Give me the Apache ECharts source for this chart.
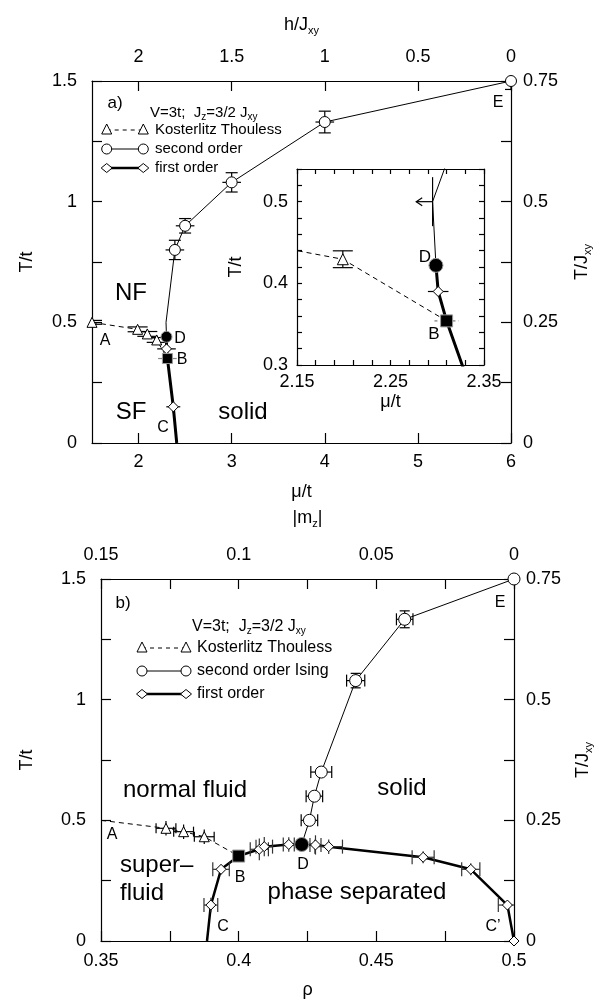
<!DOCTYPE html>
<html lang="en">
<head>
<meta charset="UTF-8">
<title>phase diagram</title>
<style>
  *{margin:0;padding:0;}
  html,body{width:100%;height:100%;background:#fff;}
  #chart{width:606px;height:1002px;}
</style>
</head>
<body>
<div id="chart"></div>
<script src="https://cdn.jsdelivr.net/npm/echarts@6/dist/echarts.min.js"></script>
<script>
// ---------- panel a) : T/t against mu/t ----------
var aMuTicks = [2, 3, 4, 5, 6];
var aHTicks = [0, 0.5, 1, 1.5, 2];
var aTTicks = [0, 0.25, 0.5, 0.75, 1, 1.25, 1.5];
var aTLabels = [0, 0.5, 1, 1.5];
var aJTicks = [0, 0.125, 0.25, 0.375, 0.5, 0.625, 0.75];
var aJLabels = [0, 0.25, 0.5, 0.75];

// second order (thin line, open circles)
var a2Mu   = [2.30, 2.295, 2.39, 2.50, 3.00, 4.00, 6.00];
var a2T    = [0.44, 0.50, 0.80, 0.90, 1.08, 1.33, 1.50];
var a2Mark = [0, 0, 1, 1, 1, 1, 1];
var a2EMu  = [0, 0, 0.10, 0.10, 0.10, 0.10, 0];
var a2ET   = [0, 0, 0.04, 0.03, 0.04, 0.045, 0.035];
// Kosterlitz Thouless (dashed, triangles)
var aKMu   = [1.50, 1.99, 2.094, 2.195, 2.31];
var aKT    = [0.50, 0.471, 0.452, 0.427, 0.35];
var aKMark = [1, 1, 1, 1, 0];
var aKET   = [0.008, 0.01, 0.01, 0.01, 0];
// first order (thick line, diamonds)
var a1Mu   = [2.30, 2.30, 2.31, 2.373, 2.41];
var a1T    = [0.44, 0.39, 0.35, 0.15, 0.0];
var a1Mark = [0, 1, 0, 1, 0];
var a1EMu  = [0, 0.10, 0, 0.075, 0];
var a1ET   = [0, 0.01, 0, 0.025, 0];
// special points
var aB = [2.31, 0.35], aBEMu = 0.10;
var aD = [2.30, 0.44];

// ---------- inset ----------
var iMuTicks = [2.15, 2.17, 2.19, 2.21, 2.23, 2.25, 2.27, 2.29, 2.31, 2.33, 2.35];
var iMuLabels = [2.15, 2.25, 2.35];
var iTTicks = [0.30, 0.32, 0.34, 0.36, 0.38, 0.40, 0.42, 0.44, 0.46, 0.48, 0.50, 0.52, 0.54];
var iTLabels = [0.3, 0.4, 0.5];
var i2Mu = [2.2986, 2.295, 2.39];
var i2T  = [0.422, 0.50, 0.80];
var iArrow = [2.295, 0.50], iArrowET = 0.03, iArrowLen = 0.0175;
var iKMu = [2.094, 2.199, 2.31];
var iKT  = [0.452, 0.4295, 0.354];
var iKMark = [0, 1, 0];
var iKET = [0, 0.0103, 0];
var i1Mu = [2.2986, 2.301, 2.31, 2.373];
var i1T  = [0.422, 0.39, 0.354, 0.15];
var i1Mark = [0, 1, 0, 0];
var i1EMu = [0, 0.011, 0, 0];
var iB = [2.31, 0.354], iBEMu = 0.013;
var iD = [2.2986, 0.422];

// ---------- panel b) : T/t against rho ----------
var bRhoTicks = [0.35, 0.375, 0.4, 0.425, 0.45, 0.475, 0.5];
var bRhoLabels = [0.35, 0.4, 0.45, 0.5];
var bMTicks = [0, 0.025, 0.05, 0.075, 0.1, 0.125, 0.15];
var bMLabels = [0, 0.05, 0.1, 0.15];

var b2Rho  = [0.4229, 0.4257, 0.4275, 0.430, 0.4425, 0.4603, 0.50];
var b2T    = [0.40, 0.50, 0.60, 0.70, 1.079, 1.333, 1.50];
var b2Mark = [0, 1, 1, 1, 1, 1, 1];
var b2ERho = [0, 0.003, 0.003, 0.0038, 0.0033, 0.003, 0];
var b2ET   = [0, 0, 0, 0, 0.03, 0.035, 0];

var bKRho  = [0.35, 0.3736, 0.380, 0.3875, 0.40];
var bKT    = [0.50, 0.467, 0.453, 0.432, 0.352];
var bKMark = [0, 1, 1, 1, 0];
var bKERho = [0, 0.0036, 0.0036, 0.0036, 0];
var bKET   = [0, 0.03, 0.03, 0.03, 0];

var b1Rho  = [0.3885, 0.3899, 0.3936, 0.40, 0.4075, 0.4093, 0.4182, 0.4229, 0.4279, 0.4327, 0.467, 0.4843, 0.4976, 0.50];
var b1T    = [0, 0.149, 0.297, 0.352, 0.38, 0.391, 0.40, 0.40, 0.398, 0.391, 0.347, 0.297, 0.149, 0];
var b1Mark = [0, 1, 1, 0, 1, 1, 1, 0, 1, 1, 1, 1, 1, 1];
var b1ERho = [0, 0.0025, 0.003, 0, 0.0033, 0.003, 0.002, 0, 0.002, 0.005, 0.004, 0.0033, 0.0033, 0];
var b1ET   = [0, 0.03, 0.02, 0, 0.045, 0.04, 0.03, 0, 0.04, 0.03, 0.025, 0.025, 0.018, 0];
var bB = [0.40, 0.352], bBET = 0.02;
var bD = [0.4229, 0.40];

var FONT = '"Liberation Sans", Arial, sans-serif';

function pairs(xs, ys) { return xs.map(function (x, i) { return [x, ys[i]]; }); }
function marked(xs, ys, m) { return pairs(xs, ys).filter(function (p, i) { return m[i]; }); }
function errs(xs, ys, ex, ey) {
    return xs.map(function (x, i) { return [x, ys[i], ex ? ex[i] : 0, ey ? ey[i] : 0]; })
        .filter(function (d) { return d[2] > 0 || d[3] > 0; });
}

function lineS(ax, data, width, dash) {
    return {
        type: 'line', xAxisIndex: ax, yAxisIndex: ax, data: data, showSymbol: false, symbol: 'none',
        clip: true, z: 2, silent: true,
        lineStyle: {color: '#000', width: width, type: dash ? [5, 4] : 'solid'}
    };
}
function markS(ax, data, symbol, size, fill, border) {
    return {
        type: 'scatter', xAxisIndex: ax, yAxisIndex: ax, data: data, symbol: symbol, symbolSize: size,
        clip: true, z: 5, silent: true,
        itemStyle: {color: fill || '#fff', borderColor: border || '#000', borderWidth: 1, opacity: 1}
    };
}
// error bars, drawn through the axes: data = [x, y, ex, ey]
function errS(ax, data, o) {
    o = o || {};
    return {
        type: 'custom', xAxisIndex: ax, yAxisIndex: ax, data: data, clip: true, z: 3, silent: true,
        renderItem: function (params, api) {
            var x = api.value(0), y = api.value(1), ex = api.value(2), ey = api.value(3);
            var c = api.coord([x, y]);
            var st = {stroke: o.color || '#000', lineWidth: o.width || 1.2, lineDash: o.dash || null};
            var k = [];
            function seg(x1, y1, x2, y2) { k.push({type: 'line', shape: {x1: x1, y1: y1, x2: x2, y2: y2}, style: st}); }
            if (ex > 0) {
                var l = api.coord([x - ex, y]), r = api.coord([x + ex, y]);
                seg(l[0], c[1], r[0], c[1]);
                if (o.capX) { seg(l[0], c[1] - o.capX, l[0], c[1] + o.capX); seg(r[0], c[1] - o.capX, r[0], c[1] + o.capX); }
            }
            if (ey > 0) {
                var t = api.coord([x, y + ey]), b = api.coord([x, y - ey]);
                seg(c[0], t[1], c[0], b[1]);
                if (o.capY) { seg(c[0] - o.capY, t[1], c[0] + o.capY, t[1]); seg(c[0] - o.capY, b[1], c[0] + o.capY, b[1]); }
            }
            return {type: 'group', children: k};
        }
    };
}
// one-sided arrow pointing to lower mu
function arrowS(ax, pt, len, ey) {
    return {
        type: 'custom', xAxisIndex: ax, yAxisIndex: ax, data: [[pt[0], pt[1], len, ey]], clip: true, z: 3, silent: true,
        renderItem: function (params, api) {
            var x = api.value(0), y = api.value(1);
            var c = api.coord([x, y]), l = api.coord([x - api.value(2), y]);
            var t = api.coord([x, y + api.value(3)]), b = api.coord([x, y - api.value(3)]);
            var st = {stroke: '#000', lineWidth: 1.2, fill: null};
            return {type: 'group', children: [
                {type: 'line', shape: {x1: c[0], y1: c[1], x2: l[0], y2: c[1]}, style: st},
                {type: 'polyline', shape: {points: [[l[0] + 6, c[1] - 4], [l[0], c[1]], [l[0] + 6, c[1] + 4]]}, style: st},
                {type: 'line', shape: {x1: c[0], y1: t[1], x2: c[0], y2: b[1]}, style: st}
            ]};
        }
    };
}

function axis(grid, pos, min, max, ticks, labels, extra) {
    var a = {
        type: 'value', gridIndex: grid, position: pos, min: min, max: max,
        splitLine: {show: false},
        axisLine: {show: true, onZero: false, lineStyle: {color: '#000', width: 1.2}},
        axisTick: {show: true, inside: true, length: 10, customValues: ticks, lineStyle: {color: '#000', width: 1.2}},
        axisLabel: {show: !!labels, customValues: labels || [], color: '#000', fontSize: 18, fontFamily: FONT,
            margin: 10, showMinLabel: true, showMaxLabel: true},
        nameLocation: 'middle',
        nameTextStyle: {color: '#000', fontSize: 18, fontFamily: FONT},
        silent: true
    };
    for (var key in extra) {
        if (typeof extra[key] === 'object' && a[key] && !Array.isArray(extra[key])) Object.assign(a[key], extra[key]);
        else a[key] = extra[key];
    }
    return a;
}

var rich = {
    a: {fontSize: 18, fontFamily: FONT, color: '#000', lineHeight: 22},
    s: {fontSize: 11, fontFamily: FONT, color: '#000', lineHeight: 11, verticalAlign: 'bottom'}
};
var rich15 = {
    a: {fontSize: 15, fontFamily: FONT, color: '#000', lineHeight: 18},
    s: {fontSize: 10, fontFamily: FONT, color: '#000', lineHeight: 10, verticalAlign: 'bottom'}
};
var rich16 = {
    a: {fontSize: 16, fontFamily: FONT, color: '#000', lineHeight: 19},
    s: {fontSize: 10, fontFamily: FONT, color: '#000', lineHeight: 10, verticalAlign: 'bottom'}
};

function txt(x, y, s, size, align) {
    return {type: 'text', z: 10, silent: true, style: {text: s, x: x, y: y, fontSize: size, fontFamily: FONT,
        fill: '#000', align: align || 'center', verticalAlign: 'middle'}};
}
function richTxt(x, y, s, r) {
    return {type: 'text', z: 10, silent: true, style: {text: s, x: x, y: y, rich: r, align: 'left', verticalAlign: 'middle'}};
}
function tri(cx, cy, s) {
    return {type: 'polygon', z: 10, silent: true, shape: {points: [[cx, cy - s * 0.6], [cx + s / 2, cy + s * 0.4], [cx - s / 2, cy + s * 0.4]]},
        style: {fill: '#fff', stroke: '#000', lineWidth: 1}};
}
function dia(cx, cy, s) {
    return {type: 'polygon', z: 10, silent: true, shape: {points: [[cx, cy - s / 2], [cx + s / 2 + 1, cy], [cx, cy + s / 2], [cx - s / 2 - 1, cy]]},
        style: {fill: '#fff', stroke: '#000', lineWidth: 1}};
}
function circ(cx, cy, r) {
    return {type: 'circle', z: 10, silent: true, shape: {cx: cx, cy: cy, r: r}, style: {fill: '#fff', stroke: '#000', lineWidth: 1}};
}
function seg(x1, y1, x2, y2, w, dash) {
    return {type: 'line', z: 9, silent: true, shape: {x1: x1, y1: y1, x2: x2, y2: y2},
        style: {stroke: '#000', lineWidth: w, lineDash: dash || null}};
}
function legend(x1, x2, xt, y0, dy, size, r, head) {
    var el = [richTxt(xt - 5, y0 - dy + 2, head, r)];
    var y;
    y = y0;
    el.push(seg(x1, y, x2, y, 1, [4, 4]), tri(x1, y, 10), tri(x2, y, 10), txt(xt, y, 'Kosterlitz Thouless', size, 'left'));
    y = y0 + dy;
    el.push(seg(x1, y, x2, y, 1), circ(x1, y, 5), circ(x2, y, 5),
        txt(xt, y, size > 15 ? 'second order Ising' : 'second order', size, 'left'));
    y = y0 + 2 * dy;
    el.push(seg(x1, y, x2, y, 2.5), dia(x1, y, 9), dia(x2, y, 9), txt(xt, y, 'first order', size, 'left'));
    return el;
}

var graphics = []
    .concat(legend(106.7, 143.3, 155, 130, 19, 15, rich15, '{a|V=3t;  J}{s|z}{a|=3/2 J}{s|xy}'))
    .concat(legend(142, 186, 197, 648, 23, 16, rich16, '{a|V=3t;  J}{s|z}{a|=3/2 J}{s|xy}'))
    .concat([
        txt(115, 103, 'a)', 17), txt(498, 103, 'E', 16),
        txt(131, 293, 'NF', 24), txt(131, 412, 'SF', 24), txt(243, 412, 'solid', 24),
        txt(105, 341, 'A', 16), txt(180, 339, 'D', 16), txt(182, 360, 'B', 16), txt(163, 428, 'C', 16),
        txt(425, 257, 'D', 17), txt(434, 334, 'B', 17),
        txt(123, 603, 'b)', 17), txt(500, 603, 'E', 16),
        txt(185, 790, 'normal fluid', 24), txt(120, 865, 'super\u2013', 24, 'left'), txt(120, 893, 'fluid', 24, 'left'),
        txt(402, 788, 'solid', 24), txt(357, 892, 'phase separated', 24),
        txt(112, 835, 'A', 16), txt(240, 878, 'B', 16), txt(223, 927, 'C', 16), txt(303, 865, 'D', 16), txt(493, 927, 'C\u2019', 16)
    ]);

var option = {
    animation: false,
    backgroundColor: '#fff',
    grid: [
        {left: 92, top: 81, width: 419, height: 362, containLabel: false},
        {left: 297, top: 169, width: 187, height: 196},
        {left: 101, top: 579, width: 413, height: 362}
    ],
    xAxis: [
        axis(0, 'bottom', 1.5, 6, aMuTicks, aMuTicks, {name: '\u03bc/t', nameGap: 40}),
        axis(0, 'top', 0, 2.25, aHTicks, aHTicks, {inverse: true, name: '{a|h/J}{s|xy}', nameGap: 45,
            nameTextStyle: {rich: rich}, axisLabel: {margin: 15}}),
        axis(1, 'bottom', 2.15, 2.35, iMuTicks, iMuLabels, {name: '\u03bc/t', nameGap: 28, axisTick: {length: 5}, axisLabel: {margin: 8}}),
        axis(1, 'top', 2.15, 2.35, iMuTicks, null, {axisTick: {length: 5}}),
        axis(2, 'bottom', 0.35, 0.5, bRhoTicks, bRhoLabels, {name: '\u03c1', nameGap: 40, axisLabel: {margin: 11}}),
        axis(2, 'top', 0, 0.15, bMTicks, bMLabels, {inverse: true, name: '{a||m}{s|z}{a||}', nameGap: 50,
            nameTextStyle: {rich: rich}, axisLabel: {margin: 15}})
    ],
    yAxis: [
        axis(0, 'left', 0, 1.5, aTTicks, aTLabels, {name: 'T/t', nameRotate: 90, nameGap: 56, axisLabel: {margin: 15}}),
        axis(0, 'right', 0, 0.75, aJTicks, aJLabels, {name: '{a|T/J}{s|xy}', nameRotate: 90, nameGap: 60,
            nameTextStyle: {rich: rich}, axisLabel: {margin: 12}}),
        axis(1, 'left', 0.3, 0.54, iTTicks, iTLabels, {name: 'T/t', nameRotate: 90, nameGap: 52,
            axisTick: {length: 5}, axisLabel: {margin: 9}}),
        axis(1, 'right', 0.3, 0.54, iTTicks, null, {axisTick: {length: 5}}),
        axis(2, 'left', 0, 1.5, aTTicks, aTLabels, {name: 'T/t', nameRotate: 90, nameGap: 65, axisLabel: {margin: 15}}),
        axis(2, 'right', 0, 0.75, aJTicks, aJLabels, {name: '{a|T/J}{s|xy}', nameRotate: 90, nameGap: 58,
            nameTextStyle: {rich: rich}, axisLabel: {margin: 12}})
    ],
    graphic: {elements: graphics},
    series: [
        // panel a
        lineS(0, pairs(a2Mu, a2T), 1),
        lineS(0, pairs(aKMu, aKT), 1, true),
        lineS(0, pairs(a1Mu, a1T), 3),
        errS(0, errs(a2Mu, a2T, a2EMu, a2ET), {capY: 6}),
        errS(0, errs(aKMu, aKT, null, aKET), {capY: 10}),
        errS(0, errs(a1Mu, a1T, a1EMu, a1ET), {}),
        errS(0, [[aB[0], aB[1], aBEMu, 0]], {color: '#888'}),
        markS(0, marked(a2Mu, a2T, a2Mark), 'circle', 11),
        markS(0, marked(aKMu, aKT, aKMark), 'triangle', 10),
        markS(0, marked(a1Mu, a1T, a1Mark), 'diamond', 10),
        markS(0, [aB], 'rect', 10, '#000', '#999'),
        markS(0, [aD], 'circle', 11, '#000', '#999'),
        // inset
        lineS(2, pairs(i2Mu, i2T), 1),
        lineS(2, pairs(iKMu, iKT), 1, true),
        lineS(2, pairs(i1Mu, i1T), 3),
        arrowS(2, iArrow, iArrowLen, iArrowET),
        errS(2, errs(iKMu, iKT, null, iKET), {capY: 10}),
        errS(2, errs(i1Mu, i1T, i1EMu, null), {}),
        errS(2, [[iB[0], iB[1], iBEMu, 0]], {color: '#777', dash: [3, 3]}),
        markS(2, marked(iKMu, iKT, iKMark), 'triangle', 11),
        markS(2, marked(i1Mu, i1T, i1Mark), 'diamond', 10),
        markS(2, [iB], 'rect', 12, '#000', '#999'),
        markS(2, [iD], 'circle', 14, '#000', '#999'),
        // panel b
        lineS(4, pairs(b2Rho, b2T), 1),
        lineS(4, pairs(bKRho, bKT), 1, true),
        lineS(4, pairs(b1Rho, b1T), 2.5),
        errS(4, errs(b2Rho, b2T, b2ERho, b2ET), {capX: 6, capY: 5}),
        errS(4, errs(bKRho, bKT, bKERho, bKET), {capX: 5}),
        errS(4, errs(b1Rho, b1T, b1ERho, b1ET), {capX: 7, color: '#333'}),
        errS(4, [[bB[0], bB[1], 0, bBET]], {color: '#888'}),
        markS(4, marked(b2Rho, b2T, b2Mark), 'circle', 12),
        markS(4, marked(bKRho, bKT, bKMark), 'triangle', 10),
        markS(4, marked(b1Rho, b1T, b1Mark), 'diamond', 10),
        markS(4, [bB], 'rect', 12, '#000', '#999'),
        markS(4, [bD], 'circle', 14, '#000', '#999')
    ]
};

var myChart = echarts.init(document.getElementById('chart'));
myChart.setOption(option);
</script>
</body>
</html>
